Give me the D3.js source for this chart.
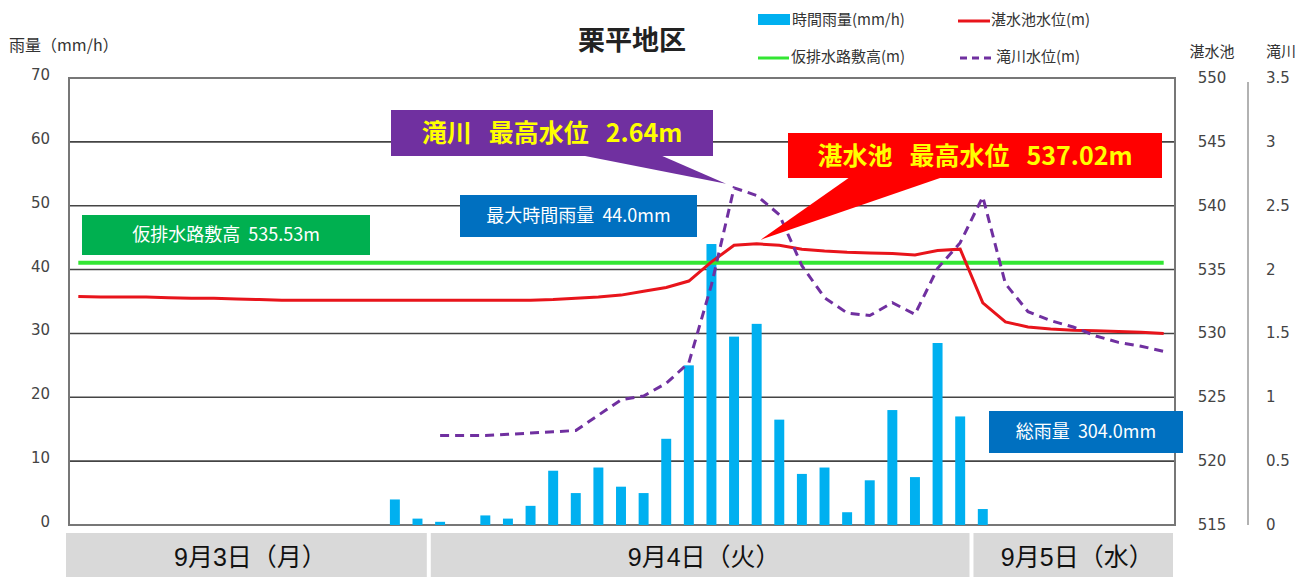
<!DOCTYPE html>
<html>
<head>
<meta charset="utf-8">
<script src="https://cdn.jsdelivr.net/npm/d3@7"></script>
<style>
  body { margin: 0; background: #fff; }
  svg { display: block; }
</style>
</head>
<body>
<svg id="chart"></svg>
<script>
// days shown along the bottom, hourly slots
const days = [
  {label: "9月3日（月）", startHour: 8, count: 16},
  {label: "9月4日（火）", startHour: 0, count: 24},
  {label: "9月5日（水）", startHour: 0, count: 9}
]

// hourly rainfall (mm/h), one value per slot
const rain = [
  0, 0, 0, 0, 0, 0, 0, 0, 0, 0, 0, 0, 0, 0, 4.0, 1.0,
  0.5, 0, 1.5, 1.0, 3.0, 8.5, 5.0, 9.0, 6.0, 5.0, 13.5, 25.0, 44.0, 29.5, 31.5, 16.5,
  8.0, 9.0, 2.0, 7.0, 18.0, 7.5, 28.5, 17.0,
  2.5, 0, 0, 0, 0, 0, 0, 0, 0
]

// 湛水池水位 (m)
const pondLevel = [
  532.9, 532.85, 532.85, 532.85, 532.8, 532.75, 532.75, 532.7, 532.65, 532.6, 532.6, 532.6, 532.6, 532.6, 532.6, 532.6,
  532.6, 532.6, 532.6, 532.6, 532.6, 532.65, 532.75, 532.85, 533.0, 533.3, 533.6, 534.1, 535.6, 536.9, 537.02, 536.9,
  536.6, 536.45, 536.35, 536.3, 536.25, 536.15, 536.5, 536.6,
  532.4, 530.9, 530.5, 530.35, 530.25, 530.2, 530.15, 530.1, 530.0
]

// 滝川水位 (m), starts on 9/4 0:00
const riverLevel = [
  null, null, null, null, null, null, null, null, null, null, null, null, null, null, null, null,
  0.70, 0.70, 0.70, 0.71, 0.72, 0.73, 0.74, 0.86, 0.98, 1.01, 1.11, 1.27, 1.88, 2.64, 2.58, 2.43,
  2.03, 1.78, 1.66, 1.64, 1.74, 1.65, 2.01, 2.21,
  2.57, 1.89, 1.67, 1.60, 1.55, 1.48, 1.43, 1.40, 1.36
]

const drainHeight = 535.53

const rainTicks = [0, 10, 20, 30, 40, 50, 60, 70]
const pondTicks = [515, 520, 525, 530, 535, 540, 545, 550]
const riverTicks = [0, 0.5, 1, 1.5, 2, 2.5, 3, 3.5]
const riverTickLabels = ["0", "0.5", "1", "1.5", "2", "2.5", "3", "3.5"]

const width = 1303
const height = 577
const margin = {top: 78, right: 128, bottom: 52, left: 69}
const jp = "'Noto Sans CJK JP', 'Noto Sans', sans-serif"
const num = "'DejaVu Sans', 'Noto Sans CJK JP', sans-serif"

// slot keys built from the day list
let slots = []
days.forEach((d, di) => {
  for (let i = 0; i < d.count; i++) slots.push(di + "-" + (d.startHour + i))
})

const svg = d3.select("#chart").attr("width", width).attr("height", height)

const x = d3.scaleBand()
  .domain(slots)
  .range([margin.left - 2, width - margin.right])
const yRain = d3.scaleLinear().domain([0, 70]).range([height - margin.bottom, margin.top])
const yPond = d3.scaleLinear().domain([515, 550]).range([height - margin.bottom, margin.top])
const yRiver = d3.scaleLinear().domain([0, 3.5]).range([height - margin.bottom, margin.top])
const cx = i => x(slots[i]) + x.bandwidth() / 2

const x0 = margin.left, x1 = width - margin.right

// grid lines
svg.append("g").selectAll("line")
  .data(rainTicks.slice(1, -1))
  .join("line")
  .attr("x1", x0).attr("x2", x1)
  .attr("y1", d => yRain(d)).attr("y2", d => yRain(d))
  .attr("stroke", "#444").attr("stroke-width", 1.6)

// frame
svg.append("rect")
  .attr("x", x0).attr("y", yRain(70))
  .attr("width", x1 - x0).attr("height", yRain(0) - yRain(70))
  .attr("fill", "none").attr("stroke", "#777").attr("stroke-width", 2)

// left axis
svg.append("g").selectAll("text")
  .data(rainTicks)
  .join("text")
  .attr("x", 50).attr("y", d => yRain(d) + 2)
  .attr("text-anchor", "end")
  .attr("font-family", num).attr("font-size", 15).attr("fill", "#444")
  .text(d => d)
svg.append("text").attr("x", 9).attr("y", 51)
  .attr("font-family", jp).attr("font-size", 16).attr("fill", "#333")
  .text("雨量（mm/h）")

// right axis (湛水池)
svg.append("g").selectAll("text")
  .data(pondTicks)
  .join("text")
  .attr("x", 1212).attr("y", d => yPond(d) + 5)
  .attr("text-anchor", "middle")
  .attr("font-family", num).attr("font-size", 15).attr("fill", "#444")
  .text(d => d)
svg.append("text").attr("x", 1212).attr("y", 57).attr("text-anchor", "middle")
  .attr("font-family", jp).attr("font-size", 15).attr("fill", "#333").text("湛水池")

// right axis (滝川)
svg.append("line")
  .attr("x1", 1248).attr("x2", 1248)
  .attr("y1", yRiver(3.5) + 4).attr("y2", yRiver(0))
  .attr("stroke", "#999").attr("stroke-width", 1.5)
svg.append("g").selectAll("text")
  .data(riverTicks)
  .join("text")
  .attr("x", 1266).attr("y", d => yRiver(d) + 5)
  .attr("font-family", num).attr("font-size", 15).attr("fill", "#444")
  .text((d, i) => riverTickLabels[i])
svg.append("text").attr("x", 1266).attr("y", 57)
  .attr("font-family", jp).attr("font-size", 15).attr("fill", "#333").text("滝川")

// bars
const barW = x.bandwidth() * 0.44
svg.append("g").selectAll("rect")
  .data(rain.map((v, i) => ({v, i})).filter(d => d.v > 0))
  .join("rect")
  .attr("x", d => cx(d.i) - barW / 2)
  .attr("y", d => yRain(d.v))
  .attr("width", barW)
  .attr("height", d => yRain(0) - yRain(d.v))
  .attr("fill", "#00b0f0")

// 仮排水路敷高
svg.append("line")
  .attr("x1", cx(0)).attr("x2", cx(slots.length - 1))
  .attr("y1", yPond(drainHeight)).attr("y2", yPond(drainHeight))
  .attr("stroke", "#33e633").attr("stroke-width", 4)

// 湛水池水位
svg.append("path")
  .datum(pondLevel)
  .attr("d", d3.line().x((d, i) => cx(i)).y(d => yPond(d)))
  .attr("fill", "none").attr("stroke", "#e8141b").attr("stroke-width", 3)

// 滝川水位
svg.append("path")
  .datum(riverLevel)
  .attr("d", d3.line().defined(d => d != null).x((d, i) => cx(i)).y(d => yRiver(d)))
  .attr("fill", "none").attr("stroke", "#7030a0").attr("stroke-width", 3)
  .attr("stroke-dasharray", "9,6")

// date band
let acc = 0
days.forEach(d => {
  const left = x(slots[acc]) + (acc === 0 ? -1 : 2)
  const right = x(slots[acc + d.count - 1]) + x.bandwidth() - 2
  svg.append("rect")
    .attr("x", left).attr("y", 533)
    .attr("width", right - left).attr("height", height - 533)
    .attr("fill", "#d9d9d9")
  svg.append("text")
    .attr("x", (left + right) / 2 + 4).attr("y", 566)
    .attr("text-anchor", "middle")
    .attr("font-family", "'Liberation Sans', 'Noto Sans CJK JP', sans-serif")
    .attr("font-size", 25).attr("fill", "#111")
    .text(d.label)
  acc += d.count
})

// title
svg.append("text").attr("x", 632).attr("y", 50).attr("text-anchor", "middle")
  .attr("font-family", jp).attr("font-size", 27).attr("font-weight", "bold").attr("fill", "#222")
  .text("栗平地区")

// legend
const legend = svg.append("g").attr("font-family", jp).attr("font-size", 15).attr("fill", "#333")
legend.append("rect").attr("x", 758).attr("y", 14).attr("width", 32).attr("height", 11).attr("fill", "#00b0f0")
legend.append("text").attr("x", 792).attr("y", 25).text("時間雨量(mm/h)")
legend.append("line").attr("x1", 958).attr("x2", 990).attr("y1", 21).attr("y2", 21)
  .attr("stroke", "#e8141b").attr("stroke-width", 3)
legend.append("text").attr("x", 991).attr("y", 25).text("湛水池水位(m)")
legend.append("line").attr("x1", 758).attr("x2", 789).attr("y1", 58).attr("y2", 58)
  .attr("stroke", "#33e633").attr("stroke-width", 3)
legend.append("text").attr("x", 791).attr("y", 62).text("仮排水路敷高(m)")
legend.append("line").attr("x1", 960).attr("x2", 992).attr("y1", 58).attr("y2", 58)
  .attr("stroke", "#7030a0").attr("stroke-width", 3).attr("stroke-dasharray", "7,5")
legend.append("text").attr("x", 996).attr("y", 62).text("滝川水位(m)")

// annotation boxes (spaces kept as non-breaking so they do not collapse)
function box(bx, by, bw, bh, fill, label, size, color, bold) {
  svg.append("rect").attr("x", bx).attr("y", by).attr("width", bw).attr("height", bh).attr("fill", fill)
  svg.append("text")
    .attr("x", bx + bw / 2).attr("y", by + bh / 2 + size * 0.36)
    .attr("text-anchor", "middle")
    .attr("font-family", jp).attr("font-size", size)
    .attr("font-weight", bold ? "bold" : "normal")
    .attr("fill", color)
    .text(label.replace(/ /g, "\u00a0"))
}

function callout(bx, by, bw, bh, px0, px1, tip, fill) {
  svg.append("path")
    .attr("d", `M${px0},${by + bh - 1} L${tip[0]},${tip[1]} L${px1},${by + bh - 1} Z`)
    .attr("fill", fill)
}

box(82, 215, 288, 40, "#00b050", "仮排水路敷高  535.53m", 18, "#fff", false)
box(460, 195, 237, 42, "#0070c0", "最大時間雨量  44.0mm", 18, "#fff", false)
box(989, 411, 194, 42, "#0070c0", "総雨量  304.0mm", 18, "#fff", false)

// 滝川 peak
const riverPeakIdx = riverLevel.indexOf(d3.max(riverLevel.filter(d => d != null)))
callout(391, 110, 322, 46, 580, 660, [cx(riverPeakIdx) - 8, yRiver(riverLevel[riverPeakIdx]) - 4], "#7030a0")
box(391, 110, 322, 46, "#7030a0", "滝川   最高水位   2.64m", 25, "#ffff00", true)

// 湛水池 peak
const pondPeakIdx = pondLevel.indexOf(d3.max(pondLevel))
callout(788, 133, 374, 45, 850, 943, [cx(pondPeakIdx) + 4, yPond(pondLevel[pondPeakIdx]) - 4], "#ff0000")
box(788, 133, 374, 45, "#ff0000", "湛水池   最高水位   537.02m", 25, "#ffff00", true)
</script>
</body>
</html>
